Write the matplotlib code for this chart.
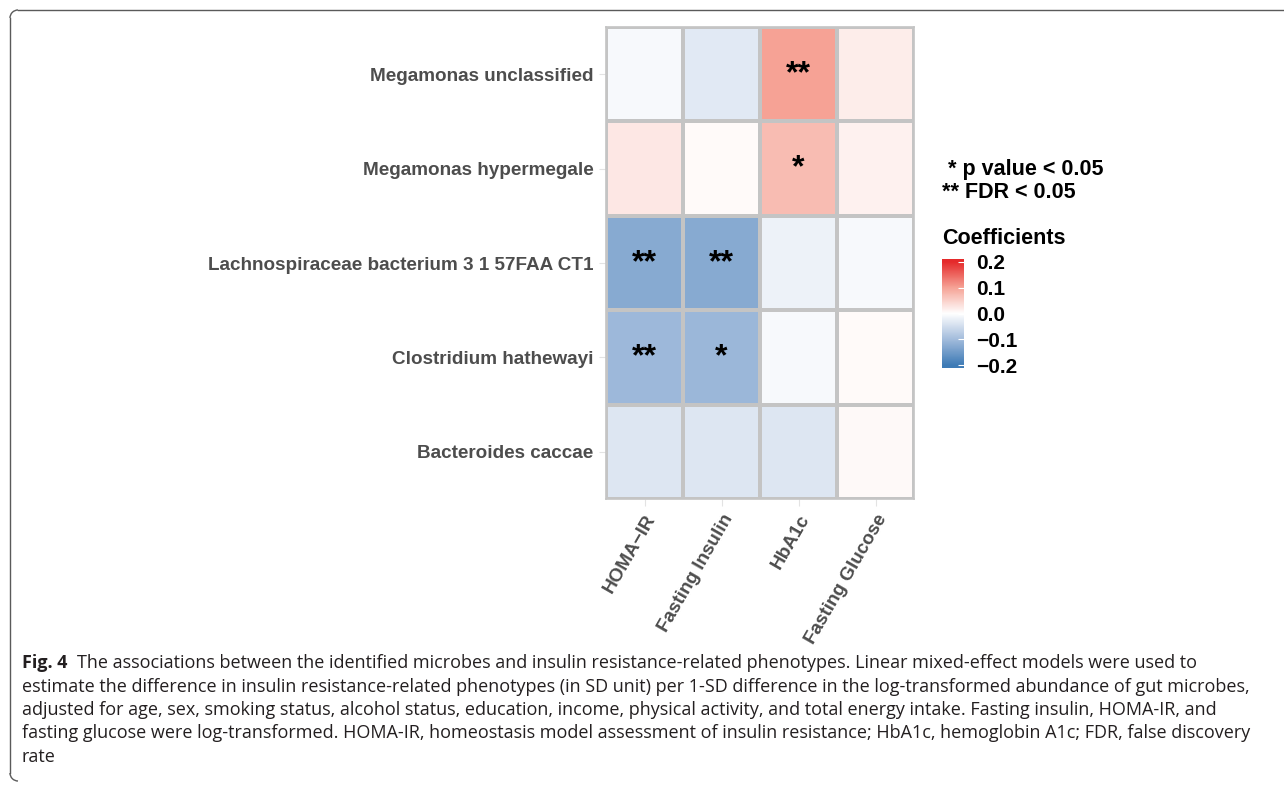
#!/usr/bin/env python3
"""Heatmap of microbe vs insulin resistance phenotype coefficients."""
import numpy as np
import matplotlib
matplotlib.use("Agg")
import matplotlib.pyplot as plt
from matplotlib.colors import LinearSegmentedColormap, Normalize
from matplotlib.lines import Line2D
from matplotlib.patches import Arc

plt.rcParams["font.family"] = ["Liberation Sans", "DejaVu Sans"]

MICROBES = [
    "Megamonas unclassified",
    "Megamonas hypermegale",
    "Lachnospiraceae bacterium 3 1 57FAA CT1",
    "Clostridium hathewayi",
    "Bacteroides caccae",
]
PHENOTYPES = ["HOMA\u2212IR", "Fasting Insulin", "HbA1c", "Fasting Glucose"]

# coefficients, rows follow MICROBES, columns follow PHENOTYPES
COEF = [
    [-0.009, -0.032, 0.101, 0.020],
    [0.025, 0.005, 0.073, 0.015],
    [-0.128, -0.128, -0.020, -0.008],
    [-0.106, -0.107, -0.009, 0.006],
    [-0.036, -0.036, -0.036, 0.007],
]
# significance marks: "*" p value < 0.05, "**" FDR < 0.05
STARS = [
    ["", "", "**", ""],
    ["", "", "*", ""],
    ["**", "**", "", ""],
    ["**", "*", "", ""],
    ["", "", "", ""],
]
CBAR_TICKS = [-0.2, -0.1, 0.0, 0.1, 0.2]

CAPTION_HEAD = "Fig. 4"
CAPTION_LINES = [
    "The associations between the identified microbes and insulin resistance-related phenotypes. Linear mixed-effect models were used to",
    "estimate the difference in insulin resistance-related phenotypes (in SD unit) per 1-SD difference in the log-transformed abundance of gut microbes,",
    "adjusted for age, sex, smoking status, alcohol status, education, income, physical activity, and total energy intake. Fasting insulin, HOMA-IR, and",
    "fasting glucose were log-transformed. HOMA-IR, homeostasis model assessment of insulin resistance; HbA1c, hemoglobin A1c; FDR, false discovery",
    "rate",
]

W, H = 1284, 787
cmap = LinearSegmentedColormap.from_list(
    "coef",
    [(0.0, "#3E7BB6"), (0.25, "#A3BCDC"), (0.5, "#FFFFFF"),
     (0.75, "#F6A396"), (1.0, "#E52A2B")],
)
norm = Normalize(-0.2, 0.2)


def fx(px):
    return px / W


def fy(py):
    return 1 - py / H


fig = plt.figure(figsize=(W / 100, H / 100), dpi=100)

# heatmap panel
ax = fig.add_axes([fx(606), fy(499), fx(308), 472 / H])
data = np.array(COEF)
ax.pcolormesh(np.arange(5) - 0.5, np.arange(6) - 0.5, data, cmap=cmap, norm=norm,
              edgecolors="#c4c4c4", linewidth=1.6)
ax.set_xlim(-0.5, 3.5)
ax.set_ylim(4.5, -0.5)
for sp in ax.spines.values():
    sp.set_color("#c4c4c4")
    sp.set_linewidth(1.2)
for i, row in enumerate(STARS):
    for j, s in enumerate(row):
        if s:
            ax.text(j, i, s, ha="center", va="center", fontsize=23,
                    fontweight="bold", color="black")

ax.set_yticks(range(len(MICROBES)))
ax.set_yticklabels(MICROBES, fontsize=13.6, fontweight="bold", color="#4d4d4d")
ax.set_xticks(range(len(PHENOTYPES)))
ax.set_xticklabels(PHENOTYPES, fontsize=13.6, fontweight="bold", color="#4d4d4d",
                   rotation=60, ha="right", va="top", rotation_mode="anchor")
ax.tick_params(axis="both", length=5, width=0.8, color="#e3e3e3", pad=4)

# significance note and colour bar
fig.text(fx(942), fy(170), " * p value < 0.05", fontsize=15.5, fontweight="bold",
         ha="left", va="center")
fig.text(fx(942), fy(192), "** FDR < 0.05", fontsize=15.5, fontweight="bold",
         ha="left", va="center")
fig.text(fx(942), fy(238), "Coefficients", fontsize=15.5, fontweight="bold",
         ha="left", va="center")

cax = fig.add_axes([fx(942), fy(367.6), fx(22), 108.2 / H])
grad = np.linspace(-0.21, 0.21, 256).reshape(-1, 1)
cax.imshow(grad, cmap=cmap, norm=norm, aspect="auto", origin="lower",
           extent=[0, 1, -0.21, 0.21])
cax.set_xlim(0, 1)
cax.set_ylim(-0.21, 0.21)
cax.set_xticks([])
cax.yaxis.tick_right()
cax.set_yticks(CBAR_TICKS)
cax.set_yticklabels([f"{t:.1f}".replace("-", "\u2212") for t in CBAR_TICKS],
                    fontsize=15, fontweight="bold")
cax.tick_params(axis="y", direction="in", length=4, width=0.8, color="white", pad=9)
for sp in cax.spines.values():
    sp.set_visible(False)

# rounded frame on the top and left
fc = "#5a5a5a"
r = 8
fig.add_artist(Line2D([fx(10 + r), 1], [fy(10), fy(10)], color=fc, lw=1.0,
                      transform=fig.transFigure))
fig.add_artist(Line2D([fx(10), fx(10)], [fy(10 + r), fy(781 - r)], color=fc, lw=1.0,
                      transform=fig.transFigure))
fig.add_artist(Arc((fx(10 + r), fy(10 + r)), 2 * r / W, 2 * r / H, theta1=90,
                   theta2=180, color=fc, lw=1.0, transform=fig.transFigure))
fig.add_artist(Arc((fx(10 + r), fy(781 - r)), 2 * r / W, 2 * r / H, theta1=180,
                   theta2=270, color=fc, lw=1.0, transform=fig.transFigure))

# caption; font size chosen so the widest line spans the caption width
cap_font = ["Open Sans", "DejaVu Sans"]
cap_col = "#231f20"
renderer = fig.canvas.get_renderer()
probe = fig.text(0, 0, CAPTION_LINES[1], fontsize=10, family=cap_font)
cap_size = 10 * 1231 / probe.get_window_extent(renderer).width
probe.remove()

y0, dy = 663, 23.5
head = fig.text(fx(22), fy(y0), CAPTION_HEAD, fontsize=cap_size, fontweight="bold",
                family=cap_font, color=cap_col, ha="left", va="center")
hx1 = head.get_window_extent(renderer).x1
for k, line in enumerate(CAPTION_LINES):
    x = (hx1 + 10) / W if k == 0 else fx(22)
    fig.text(x, fy(y0 + dy * k), line, fontsize=cap_size, family=cap_font,
             color=cap_col, ha="left", va="center")

fig.savefig("out.png", dpi=100)
